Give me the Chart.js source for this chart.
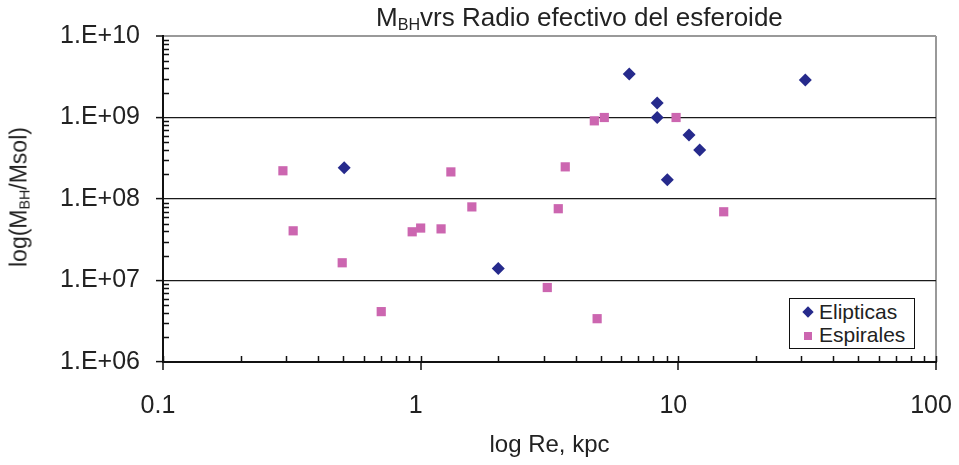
<!DOCTYPE html>
<html>
<head>
<meta charset="utf-8">
<script src="https://cdn.jsdelivr.net/npm/chart.js@4/dist/chart.umd.min.js"></script>
<style>
  body { margin: 0; background: #fff; font-family: "Liberation Sans", Arial, sans-serif; }
  #wrap { position: relative; width: 959px; height: 465px; }
  #titulo { position: absolute; left: 376px; top: 4px; font-size: 26px; line-height: 1; color: #222; white-space: nowrap; }
  #ytitulo { position: absolute; left: 19px; top: 197px; font-size: 23px; line-height: 1; color: #222; white-space: nowrap;
    transform: translate(-50%, -50%) rotate(-90deg); }
  sub { font-size: 0.62em; vertical-align: -0.22em; line-height: 0; }
  #leyenda { position: absolute; left: 789px; top: 298px; width: 124px; height: 49px; border: 1px solid #111; background: #fff;
    font-size: 21px; line-height: 23px; color: #222; }
  #leyenda div { position: relative; padding-left: 29px; }
  .mk { position: absolute; }
  .diam { left: 14px; top: 8px; width: 8px; height: 8px; background: #262a8c; transform: rotate(45deg); }
  .sq { left: 14px; top: 9px; width: 8px; height: 8px; background: #cc66b0; }
</style>
</head>
<body>
<div id="wrap">
  <canvas id="graficoMbh" width="959" height="465"></canvas>
  <div id="titulo">M<sub>BH</sub>vrs Radio efectivo del esferoide</div>
  <div id="ytitulo">log(M<sub>BH</sub>/Msol)</div>
  <div id="leyenda">
    <div style="margin-top:1px"><span class="mk diam"></span>Elipticas</div>
    <div><span class="mk sq"></span>Espirales</div>
  </div>
</div>
<script>
// Elipticas (rombos)
const elipRe = [0.505, 2.0, 6.45, 8.28, 8.28, 11.0, 12.1, 9.06, 31.1];
const elipMbh = [2.41e8, 1.4e7, 3.42e9, 1.51e9, 1.0e9, 6.1e8, 4.0e8, 1.72e8, 2.89e9];
// Espirales (cuadrados)
const espRe = [0.292, 0.32, 0.496, 0.703, 0.927, 1.0, 1.2, 1.31, 1.58, 3.1, 3.42, 3.64, 4.84, 4.72, 5.16, 9.8, 15.0];
const espMbh = [2.22e8, 4.07e7, 1.65e7, 4.15e6, 3.96e7, 4.4e7, 4.3e7, 2.15e8, 8.0e7, 8.2e6, 7.6e7, 2.48e8, 3.4e6, 9.1e8, 1.0e9, 1.0e9, 6.97e7];

// marcas de los ejes
const xTickValues = [0.1, 1, 10, 100];
const xTickLabels = ["0.1", "1", "10", "100"];
const yTickValues = [1e6, 1e7, 1e8, 1e9, 1e10];
const yTickLabels = ["1.E+06", "1.E+07", "1.E+08", "1.E+09", "1.E+10"];

function toPoints(xs, ys) {
  return xs.map((x, i) => ({ x: x, y: ys[i] }));
}

// marcas menores hacia adentro (como en Excel)
const minorTicks = {
  id: "minorTicks",
  afterDraw(chart) {
    const ctx = chart.ctx;
    const xs = chart.scales.x;
    const ys = chart.scales.y;
    const area = chart.chartArea;
    ctx.save();
    ctx.strokeStyle = "#111";
    ctx.lineWidth = 1.5;
    ctx.beginPath();
    for (let e = 6; e < 10; e++) {
      for (let k = 2; k < 10; k++) {
        const py = Math.round(ys.getPixelForValue(k * Math.pow(10, e))) + 0.5;
        ctx.moveTo(area.left, py);
        ctx.lineTo(area.left + 6, py);
      }
    }
    for (let e = -1; e < 2; e++) {
      for (let k = 1; k < 10; k++) {
        const px = Math.round(xs.getPixelForValue(k * Math.pow(10, e))) + 0.5;
        ctx.moveTo(px, area.bottom);
        ctx.lineTo(px, area.bottom - 6);
      }
    }
    const pEnd = Math.round(xs.getPixelForValue(100)) + 0.5;
    ctx.moveTo(pEnd, area.bottom);
    ctx.lineTo(pEnd, area.bottom - 6);
    ctx.stroke();
    ctx.restore();
  },
};

var graficoConfig = {
  type: "scatter",
  data: {
    datasets: [
      {
        label: "Elipticas",
        data: toPoints(elipRe, elipMbh),
        pointStyle: "rectRot",
        pointRadius: 6.5,
        pointHoverRadius: 6.5,
        backgroundColor: "#262a8c",
        borderWidth: 0,
      },
      {
        label: "Espirales",
        data: toPoints(espRe, espMbh),
        pointStyle: "rect",
        pointRadius: 6.5,
        pointHoverRadius: 6.5,
        backgroundColor: "#cc66b0",
        borderWidth: 0,
      },
    ],
  },
  options: {
    responsive: false,
    animation: false,
    layout: {
      padding: { top: 36, right: 23, left: 0, bottom: 0 },
    },
    plugins: {
      legend: { display: false },
      tooltip: { enabled: false },
    },
    scales: {
      x: {
        type: "logarithmic",
        min: 0.1,
        max: 100,
        afterBuildTicks: (axis) => {
          axis.ticks = xTickValues.map((v) => ({ value: v }));
        },
        afterFit: (axis) => {
          axis.height = 103;
          axis.paddingLeft = 0;
          axis.paddingRight = 0;
        },
        ticks: {
          autoSkip: false,
          maxRotation: 0,
          padding: 21,
          labelOffset: -5,
          color: "#222",
          font: { family: "Liberation Sans", size: 25 },
          callback: (value, i) => xTickLabels[i],
        },
        grid: {
          drawOnChartArea: true,
          color: (c) => (c.tick && c.tick.value === 100 ? "#999" : "rgba(0,0,0,0)"),
          lineWidth: 2,
          tickColor: "#111",
          tickWidth: 1.5,
          tickLength: 8,
        },
        border: { color: "#111", width: 2 },
        title: {
          display: true,
          text: "log Re, kpc",
          color: "#222",
          font: { family: "Liberation Sans", size: 24 },
          padding: { top: 0, bottom: 5 },
        },
      },
      y: {
        type: "logarithmic",
        min: 1e6,
        max: 1e10,
        afterBuildTicks: (axis) => {
          axis.ticks = yTickValues.map((v) => ({ value: v }));
        },
        afterFit: (axis) => {
          axis.width = 163;
        },
        ticks: {
          autoSkip: false,
          padding: 16,
          color: "#222",
          font: { family: "Liberation Sans", size: 25 },
          callback: (value, i) => yTickLabels[i],
        },
        grid: {
          color: (c) => (c.tick && c.tick.value === 1e10 ? "#999" : "#1a1a1a"),
          lineWidth: (c) => (c.tick && c.tick.value === 1e10 ? 2 : 1.2),
          tickColor: "#111",
          tickWidth: 1.5,
          tickLength: 7,
        },
        border: { color: "#111", width: 2 },
      },
    },
  },
  plugins: [minorTicks],
};

const grafico = new Chart(document.getElementById("graficoMbh"), graficoConfig);
</script>
</body>
</html>
